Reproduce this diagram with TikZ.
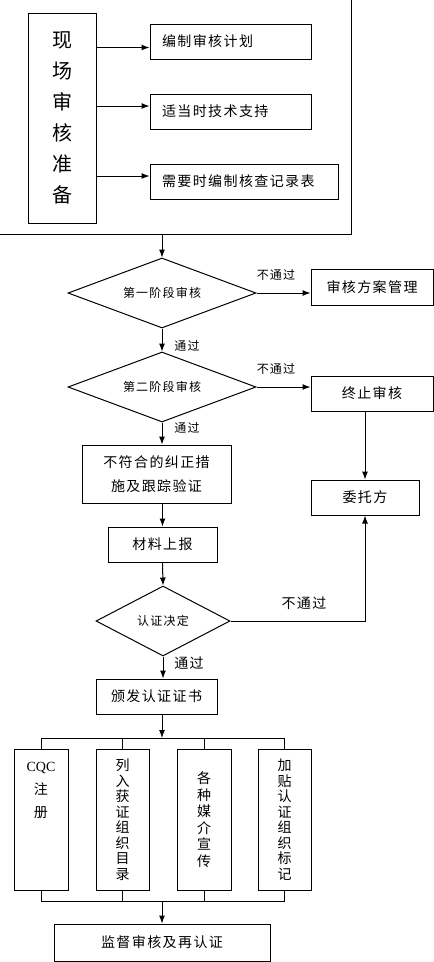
\documentclass[tikz,border=0pt]{standalone}
\usepackage{fontspec}
\setmainfont{Liberation Serif}
\newfontfamily\zhfont[LetterSpace=10]{Noto Sans CJK SC}
\usepackage{tikz}
\usetikzlibrary{positioning,calc}
\usetikzlibrary{arrows.meta,shapes}
\tikzstyle{link} = [-{Latex[length=8pt,width=6pt]}]
\tikzstyle{box} = [rectangle,draw,inner sep=0pt,font=\zhfont\fontsize{14}{16}\selectfont]
\tikzstyle{task} = [box,text width=137pt,inner xsep=12pt,minimum height=35pt,align=left]
\tikzstyle{test} = [diamond,draw,aspect=2.7,inner sep=0pt,font=\zhfont\fontsize{12}{14}\selectfont]
\tikzstyle{tag} = [inner sep=0pt,font=\zhfont\fontsize{12}{14}\selectfont]
\tikzstyle{vtext} = [inner sep=0pt,align=center,font=\zhfont\fontsize{14}{15.5}\selectfont]

\begin{document}
\begin{tikzpicture}[x=1pt,y=-1pt,line width=1pt]
        \useasboundingbox (0,0) rectangle (434,962);
        % preparation block
        \node[box,minimum width=355pt,minimum height=238pt] (prep) at (173.5,115) {};
        \node[box,minimum width=68pt,minimum height=210pt,align=center,font=\zhfont\fontsize{20}{31}\selectfont] (site) at (62,118) {现\\场\\审\\核\\准\\备};
        \node[task] (plan) at (230.5,41.5) {编制审核计划};
        \node[task] (tech) at (230.5,111.5) {适当时技术支持};
        \node[task,text width=164pt] (form) at (244,181.5) {需要时编制核查记录表};
        \draw[link] ($(site.east |- plan.west)+(0,6)$) -- ($(plan.west)+(0,6)$);
        \draw[link] ($(site.east |- tech.west)+(0,-5.5)$) -- ($(tech.west)+(0,-5.5)$);
        \draw[link] ($(site.east |- form.west)+(0,-5.5)$) -- ($(form.west)+(0,-5.5)$);

        % audit stages
        \node[test,minimum width=188pt,minimum height=70pt] (stage1) at (162,293) {第一阶段审核};
        \node[box,minimum width=122pt,minimum height=36pt] (scheme) at (372,287) {审核方案管理};
        \node[test,minimum width=188pt,minimum height=70pt] (stage2) at (162,387) {第二阶段审核};
        \node[box,minimum width=122pt,minimum height=35pt] (stop) at (372,393.5) {终止审核};
        \node[box,minimum width=149pt,minimum height=58pt,align=center,font=\zhfont\fontsize{14}{24}\selectfont] (fix) at (156.5,474) {不符合的纠正措\\施及跟踪验证};
        \node[box,minimum width=108pt,minimum height=35pt] (client) at (365,497.5) {委托方};
        \node[box,minimum width=109pt,minimum height=35pt] (report) at (162.5,544.5) {材料上报};
        \node[test,minimum width=134pt,minimum height=70pt] (decide) at (163,621) {认证决定};
        \node[box,minimum width=121pt,minimum height=35pt] (cert) at (156.5,696.5) {颁发认证证书};

        \node[tag] (no1) at (276,275) {不通过};
        \node[tag] (no2) at (276,369) {不通过};
        \node[tag,font=\zhfont\fontsize{14}{16}\selectfont] (no3) at (304,603) {不通过};
        \node[tag] (yes1) at (187,346) {通过};
        \node[tag] (yes2) at (187,428) {通过};
        \node[tag,font=\zhfont\fontsize{14}{16}\selectfont] (yes3) at (189,663) {通过};

        \draw[link] (stage1.north |- prep.south) -- (stage1.north);
        \draw[link] (stage1.east) -- (stage1.east -| scheme.west);
        \draw[link] (stage1.south) -- (stage2.north);
        \draw[link] (stage2.east) -- (stage2.east -| stop.west);
        \draw[link] (stage2.south) -- (stage2.south |- fix.north);
        \draw[link] (client.north |- stop.south) -- (client.north);
        \draw[link] (report.north |- fix.south) -- (report.north);
        \draw[link] (report.south) -- (decide.north);
        \draw[link] (decide.east) -| (client.south);
        \draw[link] (decide.south) -- (decide.south |- cert.north);

        % follow-up
        \node[box,minimum width=54pt,minimum height=141pt] (reg) at (41,819.5) {};
        \node[box,minimum width=53pt,minimum height=141pt] (dir) at (122.5,819.5) {};
        \node[box,minimum width=54pt,minimum height=141pt] (media) at (204,819.5) {};
        \node[box,minimum width=53pt,minimum height=141pt] (mark) at (284.5,819.5) {};
        \node[vtext,font=\fontsize{14}{23}\selectfont] (regtext) at (41,790) {CQC\\{\zhfont 注}\\{\zhfont 册}};
        \node[vtext] (dirtext) at (dir) {列\\入\\获\\证\\组\\织\\目\\录};
        \node[vtext,font=\zhfont\fontsize{14}{16.5}\selectfont] (mediatext) at (media) {各\\种\\媒\\介\\宣\\传};
        \node[vtext] (marktext) at (mark) {加\\贴\\认\\证\\组\\织\\标\\记};
        \node[box,minimum width=216pt,minimum height=37pt] (super) at (162,942.5) {监督审核及再认证};

        \coordinate (bustop) at (162,738);
        \coordinate (busbot) at (162,901);
        \draw[link] (bustop |- cert.south) -- (bustop);
        \draw (reg.north) |- (bustop) -| (mark.north);
        \draw (dir.north) -- (dir.north |- bustop);
        \draw (media.north) -- (media.north |- bustop);
        \draw (reg.south) |- (busbot) -| (mark.south);
        \draw (dir.south) -- (dir.south |- busbot);
        \draw (media.south) -- (media.south |- busbot);
        \draw[link] (busbot) -- (super.north);
    \end{tikzpicture}
\end{document}
